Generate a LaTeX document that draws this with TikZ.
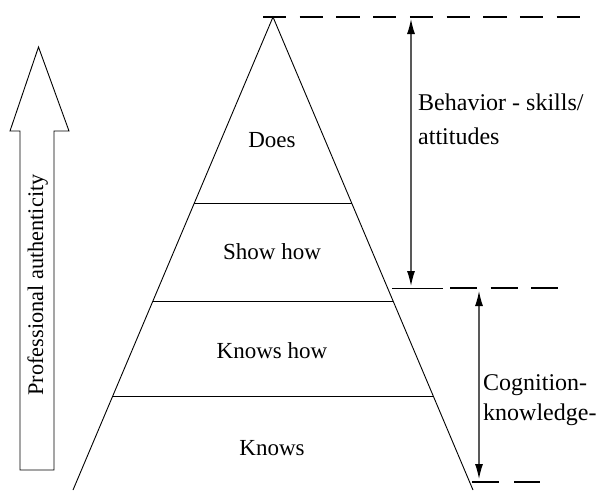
\documentclass[tikz,border=0pt]{standalone}
\usepackage{fontspec}
\setmainfont{Liberation Serif}
\usetikzlibrary{arrows.meta}
\begin{document}
\begin{tikzpicture}[x=1pt,y=-1pt,
  lbl/.style={font=\fontsize{23}{32}\selectfont, inner sep=0pt, anchor=base},
  side/.style={font=\fontsize{24}{34}\selectfont, inner sep=0pt, anchor=base west, align=left},
  edge/.style={line width=0.9pt, black},
  dimarrow/.style={line width=1.2pt, draw=black!65, {Latex[length=15pt,width=8pt,black]}-{Latex[length=15pt,width=8pt,black]}},
  dashline/.style={line width=2pt, dash pattern=on 23.3pt off 13.4pt}]
\useasboundingbox (0,0) rectangle (596,493);
% pyramid
\coordinate (apex) at (273,17);
\coordinate (bl) at (73,490);
\coordinate (br) at (473,490);
\draw[edge] (bl) -- (apex) -- (br);
\coordinate (l1a) at (194.4,203); \coordinate (l1b) at (351.6,203);
\coordinate (l2a) at (152.9,301); \coordinate (l2b) at (393.1,301);
\coordinate (l3a) at (112.7,396); \coordinate (l3b) at (433.3,396);
\draw[edge] (l1a) -- (l1b);
\draw[edge] (l2a) -- (l2b);
\draw[edge] (l3a) -- (l3b);
% level labels
\node[lbl] (does) at (272,147) {Does};
\node[lbl] (show) at (272,259) {Show how};
\node[lbl] (knowshow) at (272,358) {Knows how};
\node[lbl] (knows) at (272,455) {Knows};
% dashed guide lines
\coordinate (t1) at (263,17); \coordinate (t2) at (585,17);
\draw[dashline] (t1) -- (t2);
\coordinate (m0) at (392,288); \coordinate (m1) at (443,288);
\coordinate (m2) at (450,288); \coordinate (m3) at (558,288);
\draw[line width=1pt] (m0) -- (m1);
\draw[line width=2.5pt, dash pattern=on 27pt off 13.5pt] (m2) -- (m3);
\coordinate (b1) at (472,482); \coordinate (b2) at (540,482);
\draw[line width=2.5pt, dash pattern=on 27pt off 15pt] (b1) -- (b2);
% dimension arrows
\coordinate (a1t) at (411,19); \coordinate (a1b) at (411,286);
\draw[dimarrow] (a1t) -- (a1b);
\coordinate (a2t) at (479,291); \coordinate (a2b) at (479,479);
\draw[dimarrow] (a2t) -- (a2b);
\node[side] (beh) at (418,144) {Behavior - skills/\\attitudes};
\node[side, font=\fontsize{24}{30}\selectfont] (cog) at (483,420) {Cognition-\\knowledge-};
% professional authenticity arrow
\draw[line width=0.9pt] (20,470) -- (20,131) -- (10,131) -- (38.5,47) -- (69,131) -- (54,131) -- (54,470) -- cycle;
\node[inner sep=0pt, anchor=base, rotate=90, font=\fontsize{22.3}{26}\selectfont] (prof) at (43,285) {Professional authenticity};
\end{tikzpicture}
\end{document}
